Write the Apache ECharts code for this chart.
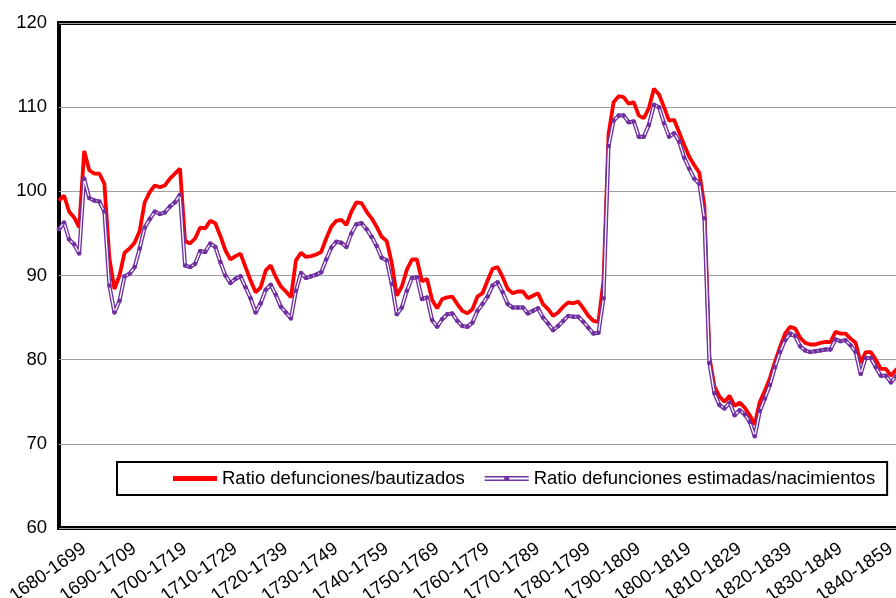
<!DOCTYPE html>
<html>
<head>
<meta charset="utf-8">
<script src="https://cdn.jsdelivr.net/npm/echarts@6/dist/echarts.min.js"></script>
<style>
html,body{margin:0;padding:0;background:#fff;}
#chart{width:896px;height:598px;}
</style>
</head>
<body>
<div id="chart"></div>
<script>
// Series values (one value per 20-year window, shifted by one year)
const redName = 'Ratio defunciones/bautizados';
const purpleName = 'Ratio defunciones estimadas/nacimientos';

const red = [
 98.9, 99.5, 97.6, 96.9, 95.7, 104.8, 102.5, 102.1, 102.1, 100.9,
 92.0, 88.4, 90.0, 92.7, 93.2, 93.9, 95.3, 98.7, 99.9, 100.7,
 100.5, 100.7, 101.5, 102.1, 102.7, 94.1, 93.8, 94.4, 95.7, 95.6,
 96.5, 96.2, 94.7, 93.0, 91.9, 92.3, 92.6, 91.0, 89.4, 88.0,
 88.6, 90.6, 91.2, 89.8, 88.7, 88.1, 87.4, 91.8, 92.7, 92.2,
 92.3, 92.5, 92.8, 94.4, 95.8, 96.5, 96.6, 96.0, 97.6, 98.7,
 98.6, 97.6, 96.8, 95.8, 94.6, 94.1, 91.5, 87.6, 88.7, 90.7,
 91.9, 91.9, 89.3, 89.6, 87.1, 86.1, 87.2, 87.4, 87.5, 86.6,
 85.8, 85.5, 86.0, 87.5, 87.9, 89.4, 90.8, 91.0, 89.8, 88.4,
 87.9, 88.1, 88.1, 87.3, 87.6, 87.9, 86.6, 86.0, 85.2, 85.6,
 86.3, 86.8, 86.7, 86.9, 86.1, 85.2, 84.6, 84.5, 89.4, 106.8,
 110.6, 111.3, 111.2, 110.4, 110.6, 109.0, 108.7, 109.9, 112.2, 111.5,
 110.0, 108.4, 108.5, 107.0, 105.5, 104.1, 103.1, 102.2, 98.3, 80.3,
 76.8, 75.6, 75.0, 75.7, 74.5, 74.9, 74.3, 73.4, 72.3, 75.0,
 76.3, 77.8, 79.7, 81.5, 83.1, 83.9, 83.7, 82.6, 82.0, 81.8,
 81.8, 82.0, 82.1, 82.1, 83.3, 83.1, 83.1, 82.5, 82.0, 79.6,
 80.9, 80.9, 80.0, 78.9, 78.9, 78.1, 78.8, 79.1
];

const purple = [
 95.5, 96.3, 94.3, 93.7, 92.6, 101.5, 99.2, 98.9, 98.8, 97.6,
 88.8, 85.6, 87.0, 89.9, 90.2, 91.0, 93.2, 95.7, 96.7, 97.6,
 97.3, 97.5, 98.2, 98.7, 99.6, 91.2, 91.0, 91.4, 92.9, 92.8,
 93.8, 93.4, 91.6, 90.0, 89.1, 89.6, 89.9, 88.6, 87.3, 85.6,
 86.7, 88.3, 88.9, 87.7, 86.3, 85.6, 84.9, 88.2, 90.3, 89.7,
 89.9, 90.1, 90.4, 91.9, 93.3, 94.0, 93.9, 93.4, 95.0, 96.1,
 96.2, 95.5, 94.6, 93.5, 92.1, 91.8, 89.0, 85.4, 86.2, 88.2,
 89.7, 89.8, 87.2, 87.4, 84.7, 83.9, 84.8, 85.4, 85.5, 84.6,
 84.0, 83.9, 84.4, 85.8, 86.6, 87.5, 88.8, 89.2, 88.0, 86.6,
 86.2, 86.2, 86.2, 85.5, 85.8, 86.1, 85.0, 84.3, 83.5, 84.0,
 84.6, 85.2, 85.1, 85.1, 84.5, 83.8, 83.1, 83.2, 87.3, 105.4,
 108.4, 109.0, 109.0, 108.2, 108.3, 106.5, 106.5, 107.9, 110.3, 110.0,
 108.1, 106.5, 106.9, 105.9, 104.0, 102.7, 101.5, 100.9, 96.8, 79.6,
 76.0, 74.6, 74.2, 74.9, 73.4, 74.0, 73.5, 72.6, 70.9, 73.9,
 75.4, 77.0, 79.1, 80.9, 82.3, 83.1, 82.8, 81.6, 81.1, 80.9,
 81.0, 81.1, 81.2, 81.2, 82.4, 82.2, 82.3, 81.7, 80.9, 78.3,
 80.2, 80.2, 79.1, 78.1, 78.1, 77.3, 78.0, 78.4
];

// Category labels: 20-year windows starting each year from 1680
const startYear = 1680;
const windowLength = 20;
const categories = red.map((_, i) => (startYear + i) + '-' + (startYear + i + windowLength - 1));

// Axis ticks
const yTicks = [60, 70, 80, 90, 100, 110, 120];
const labelEvery = 10;
const labelShift = 5;

const FONT = '"Liberation Sans", Arial, Helvetica, sans-serif';
const PURPLE = '#7030a0';

const chart = echarts.init(document.getElementById('chart'), null, {renderer: 'canvas'});
chart.setOption({
  animation: false,
  backgroundColor: '#fff',
  grid: {
    left: 59, right: -5, top: 23, bottom: 70,
    containLabel: false,
    outerBoundsMode: 'none',
    show: true, borderColor: '#000', borderWidth: 4, backgroundColor: 'transparent'
  },
  legend: {
    left: 117, top: 462,
    padding: [7, 12, 7, 56],
    itemGap: 20,
    itemWidth: 44,
    itemHeight: 5,
    borderColor: '#000', borderWidth: 2, borderRadius: 0,
    backgroundColor: '#fff',
    selectedMode: false,
    textStyle: {fontSize: 18.5, color: '#000', fontFamily: FONT},
    data: [
      {name: redName, icon: 'path://M0,0H44V5H0Z'},
      {name: purpleName, icon: 'path://M0,0H44V1.6H0Z M0,3.4H44V5H0Z M19.5,2.5A2.5,2.5,0,1,1,24.5,2.5A2.5,2.5,0,1,1,19.5,2.5Z'}
    ]
  },
  xAxis: {
    type: 'category',
    data: categories,
    boundaryGap: false,
    axisLine: {show: false},
    axisTick: {show: false},
    splitLine: {show: false},
    axisLabel: {
      interval: (i) => i >= labelShift && (i - labelShift) % labelEvery === 0,
      formatter: (v, i) => categories[i - labelShift],
      rotate: 35,
      margin: 19,
      fontSize: 18.5,
      color: '#000',
      fontFamily: FONT,
      hideOverlap: false
    }
  },
  yAxis: {
    type: 'value',
    min: yTicks[0], max: yTicks[yTicks.length - 1], interval: 10,
    axisLine: {show: false},
    axisTick: {show: false},
    splitLine: {lineStyle: {color: '#a0a0a0', width: 1}},
    axisLabel: {fontSize: 18.5, color: '#000', margin: 12, fontFamily: FONT}
  },
  series: [
    {
      name: redName, type: 'line', data: red, symbol: 'none', silent: true,
      lineStyle: {color: '#ff0000', width: 3.8}, itemStyle: {color: '#ff0000'}, z: 2
    },
    {
      name: purpleName, type: 'line', data: purple, symbol: 'none', silent: true,
      lineStyle: {color: PURPLE, width: 4}, itemStyle: {color: PURPLE}, z: 3
    },
    {
      name: purpleName, type: 'line', data: purple, symbol: 'circle', symbolSize: 4.5,
      showSymbol: true, showAllSymbol: true, silent: true,
      lineStyle: {color: '#ffffff', width: 1.3}, itemStyle: {color: PURPLE}, z: 4
    }
  ]
});
</script>
</body>
</html>
